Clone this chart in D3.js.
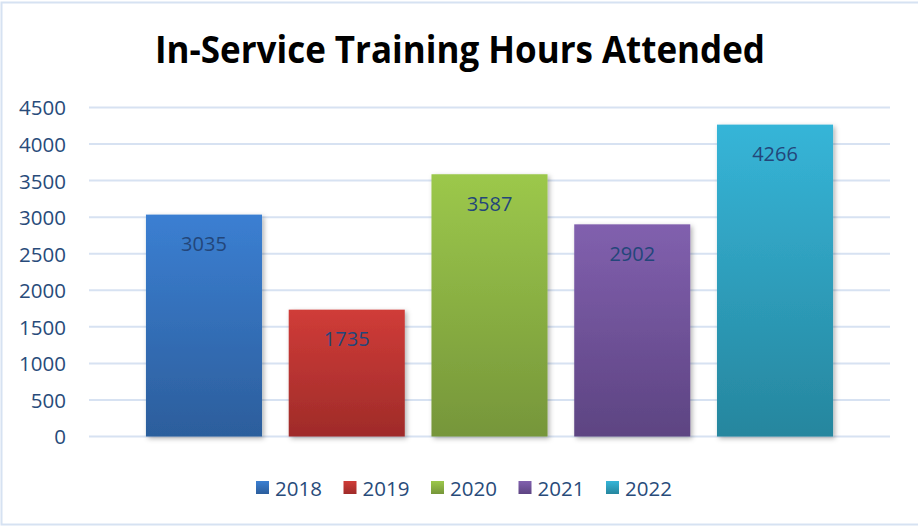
<!DOCTYPE html>
<html><head><meta charset="utf-8">
<script src="https://cdn.jsdelivr.net/npm/d3@7"></script>
<style>body{margin:0;background:#fff}svg{display:block}</style>
</head><body><svg id="c" width="918" height="527"></svg>
<script>
const years = ["2018","2019","2020","2021","2022"];
const hours = [3035, 1735, 3587, 2902, 4266];
const yTicks = [0,500,1000,1500,2000,2500,3000,3500,4000,4500];
const topColors = ["#3b7fd2","#d03c38","#9cc84b","#8160ae","#36b5d8"];
const bottomColors = ["#2c5e9c","#9f2b29","#76963a","#5d4482","#26869e"];
const title = "In-Service Training Hours Attended";

const svg = d3.select("#c");
const W = 918, H = 527;

svg.append("rect").attr("x",1.5).attr("y",2.5).attr("width",W).attr("height",H-5)
  .attr("fill","#fff").attr("stroke","#d6e2f2").attr("stroke-width",2);

const defs = svg.append("defs");
years.forEach((y,i)=>{
  const g = defs.append("linearGradient").attr("id","g"+i).attr("x1",0).attr("y1",0).attr("x2",0).attr("y2",1);
  g.append("stop").attr("offset","0%").attr("stop-color",topColors[i]);
  g.append("stop").attr("offset","100%").attr("stop-color",bottomColors[i]);
});
const f = defs.append("filter").attr("id","sh").attr("x","-20%").attr("y","-10%").attr("width","140%").attr("height","130%");
f.append("feDropShadow").attr("dx",2).attr("dy",2).attr("stdDeviation",2.5).attr("flood-color","#000").attr("flood-opacity",0.3);

const x = d3.scaleBand().domain(years).range([89, 890]).paddingInner(0.187).paddingOuter(0.399);
const y = d3.scaleLinear().domain([0,4500]).range([436.5, 107.5]);

// gridlines
svg.append("g").selectAll("line").data(yTicks).join("line")
  .attr("x1",89).attr("x2",890).attr("y1",d=>y(d)).attr("y2",d=>y(d))
  .attr("stroke","#d7e2f2").attr("stroke-width",2);

// y axis labels
const yAxis = d3.axisLeft(y).tickValues(yTicks).tickSize(0).tickPadding(0).tickFormat(d3.format("d"));
const ga = svg.append("g").attr("transform","translate(66,0)").call(yAxis);
ga.select(".domain").remove();
ga.selectAll("text").attr("font-family","'Open Sans', sans-serif").attr("font-size","20.5px")
  .attr("fill","#284b7a").attr("dy","0.36em");

// bars
svg.append("g").selectAll("rect").data(hours).join("rect")
  .attr("x",(d,i)=>x(years[i])).attr("width",x.bandwidth())
  .attr("y",d=>y(d)).attr("height",d=>y(0)-y(d))
  .attr("fill",(d,i)=>"url(#g"+i+")").attr("filter","url(#sh)");

// data labels
svg.append("g").selectAll("text").data(hours).join("text")
  .attr("x",(d,i)=>x(years[i])+x.bandwidth()/2).attr("y",d=>y(d)+36.5)
  .attr("text-anchor","middle").attr("font-family","'Open Sans', sans-serif").attr("font-size","20px")
  .attr("fill","#23467a").text(d=>d);

// title
svg.append("text").attr("x",460).attr("y",63).attr("text-anchor","middle")
  .attr("font-family","'Open Sans', sans-serif").attr("font-weight",700).attr("font-size","37px")
  .attr("textLength",610).attr("lengthAdjust","spacingAndGlyphs").attr("fill","#000").text(title);

// legend
const lg = svg.append("g").selectAll("g").data(years).join("g")
  .attr("transform",(d,i)=>`translate(${256+i*87.5},481)`);
lg.append("rect").attr("width",13).attr("height",13).attr("fill",(d,i)=>"url(#g"+i+")");
lg.append("text").attr("x",19).attr("y",15).attr("font-family","'Open Sans', sans-serif").attr("font-size","20.5px")
  .attr("fill","#284b7a").text(d=>d);
</script></body></html>
